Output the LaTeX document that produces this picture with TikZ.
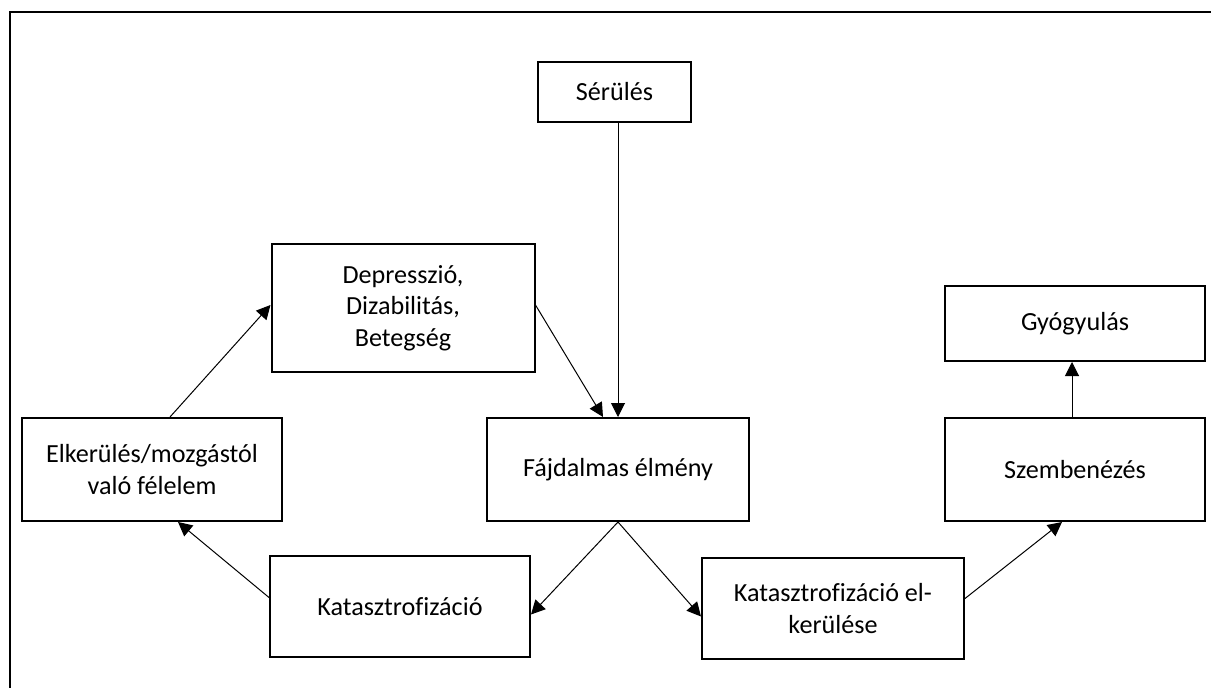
\documentclass[tikz,border=0pt]{standalone}
\usepackage{fontspec}
\setmainfont[Ligatures=NoCommon]{Carlito}
\usetikzlibrary{arrows.meta}
\begin{document}
\begin{tikzpicture}[x=0.75pt,y=-0.75pt,
  box/.style={draw,line width=1.5pt,rectangle,align=center,inner sep=0pt,
    font=\fontsize{19.6}{23.6}\selectfont},
  conn/.style={line width=0.75pt,-{Triangle[length=10.5pt,width=10.5pt]}}]
\useasboundingbox (0,0) rectangle (1211,688);
\draw[line width=1.8pt] (10,688) -- (10,12) -- (1211,12);
\node[box,minimum width=153*0.75pt,minimum height=60*0.75pt] (ser) at (614.5,92) {Sérülés};
\node[box,minimum width=263*0.75pt,minimum height=128*0.75pt] (dep) at (403,308) {Depresszió,\\Dizabilitás,\\Betegség};
\node[box,minimum width=262*0.75pt,minimum height=103*0.75pt] (fa) at (618,469.5) {Fájdalmas élmény};
\node[box,minimum width=260*0.75pt,minimum height=75*0.75pt] (gyo) at (1075,323.5) {Gyógyulás};
\node[box,minimum width=260*0.75pt,minimum height=103*0.75pt] (szem) at (1075,469.5) {Szembenézés};
\node[box,minimum width=260*0.75pt,minimum height=103*0.75pt] (elk) at (152,469.5) {Elkerülés/mozgástól\\való félelem};
\node[box,minimum width=260*0.75pt,minimum height=101*0.75pt] (kat) at (400,606.5) {Katasztrofizáció};
\node[box,minimum width=262*0.75pt,minimum height=101*0.75pt] (katel) at (833,608.5) {Katasztrofizáció el-\\kerülése};
\draw[conn] (ser.south -| fa.north) -- (fa.north);
\draw[conn] ([shift={(0,-3)}]dep.east) -- ([shift={(-15,0)}]fa.north);
\draw[conn] (fa.south) -- ([shift={(0,8)}]kat.east);
\draw[conn] (fa.south) -- ([shift={(0,8)}]katel.west);
\draw[conn] ([shift={(0,-10)}]katel.east) -- ([shift={(-13,0)}]szem.south);
\draw[conn] ([shift={(-3,0)}]szem.north) -- ([shift={(-3,0)}]gyo.south);
\draw[conn] ([shift={(0,-9)}]kat.west) -- ([shift={(26,0)}]elk.south);
\draw[conn] ([shift={(18,0)}]elk.north) -- ([shift={(0,-3)}]dep.west);
\end{tikzpicture}
\end{document}
